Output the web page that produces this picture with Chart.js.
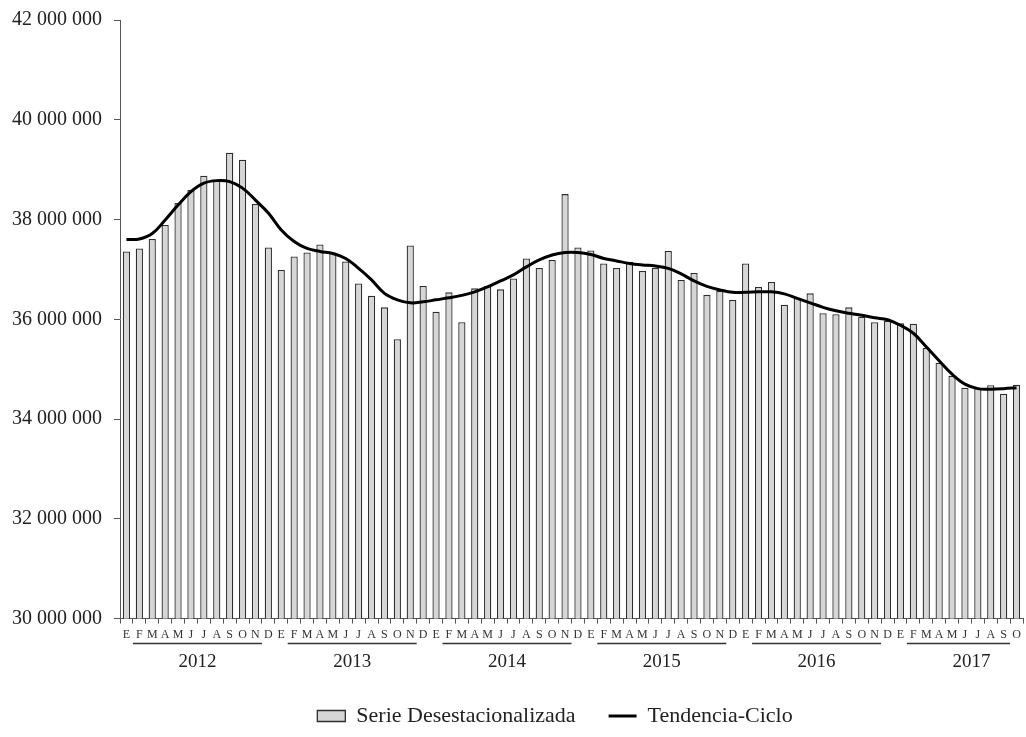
<!DOCTYPE html>
<html><head><meta charset="utf-8">
<script src="https://cdn.jsdelivr.net/npm/chart.js@4"></script>
<style>html,body{margin:0;padding:0;background:#fff}#wrap{width:1026px;height:737px;position:relative}</style>
</head><body><div id="wrap"><canvas id="c"></canvas></div>
<script>
const categories = [
  'E','F','M','A','M','J','J','A','S','O','N','D',
  'E','F','M','A','M','J','J','A','S','O','N','D',
  'E','F','M','A','M','J','J','A','S','O','N','D',
  'E','F','M','A','M','J','J','A','S','O','N','D',
  'E','F','M','A','M','J','J','A','S','O','N','D',
  'E','F','M','A','M','J','J','A','S','O'
];
const years = ['2012','2013','2014','2015','2016','2017'];
const serieDesestacionalizada = [
  37360000, 37420000, 37610000, 37890000, 38330000, 38590000, 38880000, 38780000, 39340000, 39200000, 38310000, 37440000,
  36990000, 37260000, 37340000, 37500000, 37340000, 37160000, 36720000, 36470000, 36240000, 35600000, 37480000, 36670000,
  36150000, 36540000, 35940000, 36620000, 36670000, 36600000, 36820000, 37220000, 37030000, 37190000, 38510000, 37440000,
  37380000, 37120000, 37030000, 37150000, 36970000, 37030000, 37370000, 36790000, 36930000, 36490000, 36570000, 36390000,
  37120000, 36650000, 36750000, 36290000, 36430000, 36520000, 36120000, 36100000, 36240000, 36050000, 35940000, 35970000,
  35920000, 35910000, 35430000, 35130000, 34870000, 34630000, 34620000, 34680000, 34510000, 34690000
];
const tendenciaCiclo = [
  37600000, 37610000, 37720000, 37990000, 38290000, 38560000, 38730000, 38780000, 38760000, 38630000, 38390000, 38130000,
  37790000, 37560000, 37420000, 37360000, 37320000, 37220000, 37020000, 36790000, 36520000, 36390000, 36330000, 36350000,
  36390000, 36430000, 36480000, 36550000, 36650000, 36770000, 36890000, 37050000, 37190000, 37290000, 37340000, 37340000,
  37300000, 37220000, 37170000, 37120000, 37090000, 37070000, 37020000, 36910000, 36770000, 36660000, 36590000, 36540000,
  36540000, 36550000, 36550000, 36510000, 36420000, 36330000, 36240000, 36170000, 36120000, 36080000, 36030000, 35990000,
  35880000, 35720000, 35450000, 35170000, 34900000, 34700000, 34610000, 34600000, 34610000, 34630000
];
const yMin = 30000000, yMax = 42000000, yStep = 2000000;

const SERIF = "'Liberation Serif', 'DejaVu Serif', serif";
function fmt(v){ return String(v).replace(/\B(?=(\d{3})+(?!\d))/g, ' '); }

const yearPlugin = {
  id: 'yearGroups',
  afterLayout(chart){
    chart.legend.left = 87;
  },
  afterDraw(chart){
    const x = chart.scales.x, ctx = chart.ctx;
    const half = (x.getPixelForValue(1) - x.getPixelForValue(0)) / 2;
    ctx.save();
    years.forEach((yr, k) => {
      const start = k * 12;
      const end = Math.min(start + 11, categories.length - 1);
      const x1 = x.getPixelForValue(start + 1) - half;
      const x2 = x.getPixelForValue(end - 1) + half;
      ctx.strokeStyle = '#333';
      ctx.lineWidth = 1.5;
      ctx.beginPath();
      ctx.moveTo(x1, 643.5); ctx.lineTo(x2, 643.5);
      ctx.stroke();
      const cx = x.getPixelForValue(start) + 11 * half;
      ctx.fillStyle = '#222';
      ctx.font = '19px ' + SERIF;
      ctx.textAlign = 'center';
      ctx.textBaseline = 'middle';
      ctx.fillText(yr, cx, 662);
    });
    ctx.restore();
  }
};

new Chart(document.getElementById('c'), {
  data: {
    labels: categories,
    datasets: [
      {
        type: 'line',
        label: 'Tendencia-Ciclo',
        data: tendenciaCiclo,
        borderColor: '#000',
        backgroundColor: '#000',
        borderWidth: 3,
        pointRadius: 0,
        pointStyle: 'line',
        tension: 0.4,
        order: 0
      },
      {
        type: 'bar',
        label: 'Serie Desestacionalizada',
        data: serieDesestacionalizada,
        backgroundColor: '#d6d6d6',
        borderColor: '#2e2e2e',
        borderWidth: 1.3,
        pointStyle: 'rect',
        barPercentage: 0.56,
        categoryPercentage: 1.0,
        order: 1
      }
    ]
  },
  options: {
    responsive: true,
    maintainAspectRatio: false,
    animation: false,
    layout: { padding: { top: 20, right: 3, left: 0, bottom: 0 } },
    plugins: {
      tooltip: { enabled: false },
      legend: {
        position: 'bottom',
        reverse: true,
        labels: {
          usePointStyle: true,
          pointStyleWidth: 28,
          boxHeight: 11,
          padding: 33,
          color: '#222',
          font: { family: SERIF, size: 22, lineHeight: 0.8 }
        }
      }
    },
    scales: {
      x: {
        offset: true,
        grid: { drawOnChartArea: false, drawTicks: true, tickLength: 5, color: '#555' },
        border: { display: true, color: '#555', width: 1 },
        ticks: {
          autoSkip: false, maxRotation: 0, minRotation: 0, padding: 4,
          color: '#333', font: { family: SERIF, size: 12 }
        },
        afterFit(s){ s.height = 53.4; }
      },
      y: {
        min: yMin, max: yMax,
        grid: { drawOnChartArea: false, drawTicks: true, tickLength: 6, color: '#555' },
        border: { display: true, color: '#555', width: 1 },
        ticks: {
          stepSize: yStep, padding: 12, color: '#222',
          font: { family: SERIF, size: 20, lineHeight: 0.8 },
          callback: v => fmt(v)
        },
        afterFit(s){ s.width = 120; }
      }
    }
  },
  plugins: [yearPlugin]
});
</script>
</body></html>
